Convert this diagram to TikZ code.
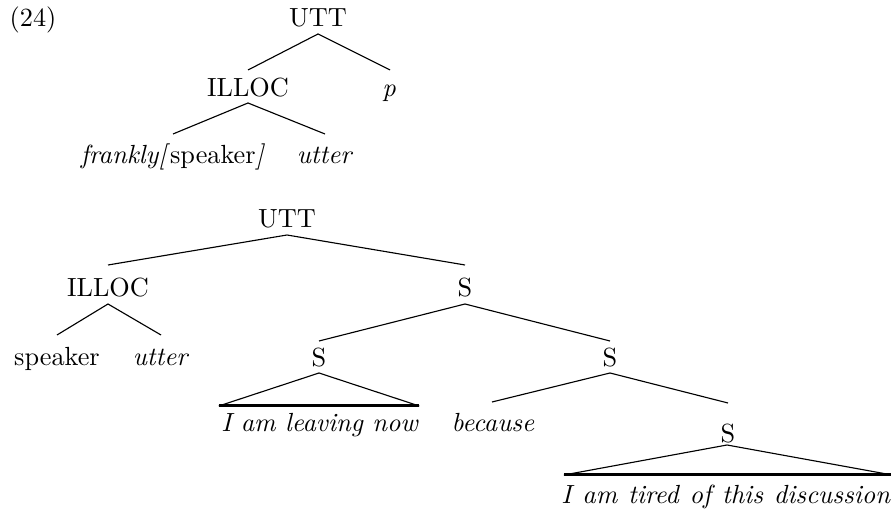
\documentclass[tikz,border=0pt]{standalone}
\usetikzlibrary{calc}
\begin{document}
\begin{tikzpicture}[x=0.4pt,y=-0.4pt,
  lab/.style={anchor=base,inner sep=0pt,font=\fontsize{10.5}{12.6}\selectfont},
  branch/.style={line width=0.45pt},
  bar/.style={line width=1.2pt}]
\useasboundingbox (0,0) rectangle (891,510);
% example number
\node[lab] (ex) at (33,27) {(24)};
% upper tree
\node[lab] (utt1) at (318,27) {UTT};
\node[lab] (illoc1) at (248,97) {ILLOC};
\node[lab] (p1) at (389,97) {\textit{p}};
\node[lab] (frank) at (173,164) {\textit{frankly[}speaker\textit{]}};
\node[lab] (utter1) at (325,164) {\textit{utter}};
\draw[branch] ($(illoc1.base)+(0,-27)$) -- ($(utt1.base)+(0,7)$) -- ($(p1.base)+(1,-27)$);
\draw[branch] ($(frank.base)+(0,-30)$) -- ($(illoc1.base)+(0,6)$) -- ($(utter1.base)+(0,-30)$);
% lower tree
\node[lab] (utt2) at (287,228) {UTT};
\node[lab] (illoc2) at (108,297) {ILLOC};
\node[lab] (s2) at (465,297) {S};
\node[lab] (speaker) at (57,366) {speaker};
\node[lab] (utter2) at (161,366) {\textit{utter}};
\node[lab] (sl) at (319,367) {S};
\node[lab] (sr) at (610,367) {S};
\node[lab] (leave) at (320,432) {\textit{I am leaving now}};
\node[lab] (because) at (493,432) {\textit{because}};
\node[lab] (sb) at (728,443) {S};
\node[lab] (tired) at (726,504) {\textit{I\hspace{0.6pt} am\hspace{0.6pt} tired\hspace{0.6pt} of\hspace{0.6pt} this\hspace{0.6pt} discussion}};
\draw[branch] ($(illoc2.base)+(0,-32)$) -- ($(utt2.base)+(0,7)$) -- ($(s2.base)+(0,-32)$);
\draw[branch] ($(speaker.base)+(0,-31)$) -- ($(illoc2.base)+(0,7)$) -- ($(utter2.base)+(0,-31)$);
\draw[branch] ($(sl.base)+(0,-26)$) -- ($(s2.base)+(0,7)$) -- ($(sr.base)+(0,-26)$);
\draw[branch] ($(leave.base west)+(-2,-26)$) -- ($(sl.base)+(0,6)$) -- ($(leave.base east)+(0,-26)$);
\draw[bar] ($(leave.base west)+(-2,-26)$) -- ($(leave.base east)+(0,-26)$);
\draw[branch] ($(because.base)+(-1,-30)$) -- ($(sr.base)+(0,6)$) -- ($(sb.base)+(0,-40)$);
\draw[branch] ($(tired.base west)+(3,-29)$) -- ($(sb.base)+(-1,2)$) -- ($(tired.base east)+(1,-29)$);
\draw[bar] ($(tired.base west)+(3,-29)$) -- ($(tired.base east)+(1,-29)$);
\end{tikzpicture}
\end{document}
